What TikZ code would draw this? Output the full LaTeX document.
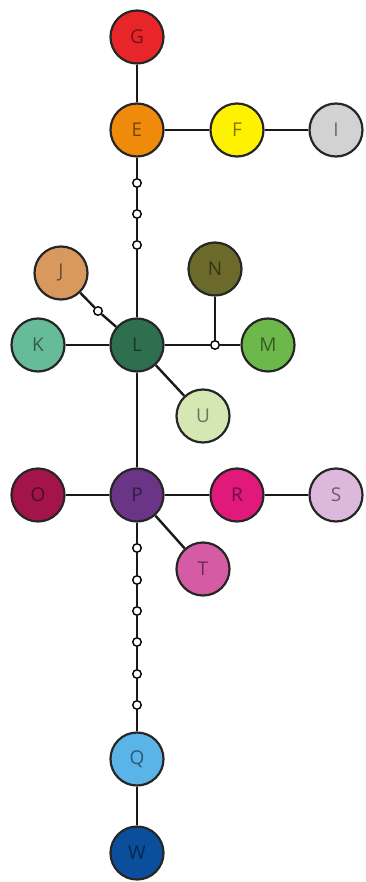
\documentclass[tikz,border=0pt]{standalone}
\usepackage{fontspec}
\setmainfont{Open Sans}
\usetikzlibrary{backgrounds}
\definecolor{cG}{HTML}{E8262A}
\definecolor{cE}{HTML}{F08A0B}
\definecolor{cF}{HTML}{FFF200}
\definecolor{cI}{HTML}{D2D2D2}
\definecolor{cJ}{HTML}{D9995E}
\definecolor{cN}{HTML}{6B6A2A}
\definecolor{cK}{HTML}{66BB99}
\definecolor{cL}{HTML}{2E6F50}
\definecolor{cM}{HTML}{6DB84B}
\definecolor{cU}{HTML}{D5E8B4}
\definecolor{cO}{HTML}{A3144A}
\definecolor{cP}{HTML}{6B3587}
\definecolor{cR}{HTML}{E0197B}
\definecolor{cS}{HTML}{DCB8DC}
\definecolor{cT}{HTML}{D65BA5}
\definecolor{cQ}{HTML}{5AB4E8}
\definecolor{cW}{HTML}{0B4F9C}
\tikzset{
  hap/.style={circle, draw=black!85, line width=2.2pt, minimum size=53pt, inner sep=0pt,
    font=\fontsize{19}{19}\selectfont, text=black, text opacity=0.5},
  dot/.style={circle, draw=black, fill=white, line width=1.4pt, minimum size=8.5pt, inner sep=0pt},
  link/.style={line width=2.4pt, draw=black!90}
}
\begin{document}
\begin{tikzpicture}[x=1pt,y=-1pt]
\useasboundingbox (0,0) rectangle (366,882);
\node[hap, fill=cG] (G) at (137,37) {G};
\node[hap, fill=cE] (E) at (137,130) {E};
\node[hap, fill=cF] (F) at (237,130) {F};
\node[hap, fill=cI] (I) at (336,130) {I};
\node[dot] (e1) at (137,183) {};
\node[dot] (e2) at (137,214) {};
\node[dot] (e3) at (137,245) {};
\node[hap, fill=cJ] (J) at (61,273) {J};
\node[dot] (j1) at (98,311) {};
\node[hap, fill=cN] (N) at (215,269) {N};
\node[hap, fill=cK] (K) at (38,345) {K};
\node[hap, fill=cL] (L) at (137,345) {L};
\node[dot] (m1) at (215,345) {};
\node[hap, fill=cM] (M) at (268,345) {M};
\node[hap, fill=cU] (U) at (203,416) {U};
\node[hap, fill=cO] (O) at (38,495) {O};
\node[hap, fill=cP] (P) at (137,495) {P};
\node[hap, fill=cR] (R) at (237,495) {R};
\node[hap, fill=cS] (S) at (336,495) {S};
\node[hap, fill=cT] (T) at (203,569) {T};
\node[dot] (p1) at (137,548) {};
\node[dot] (p2) at (137,580) {};
\node[dot] (p3) at (137,611) {};
\node[dot] (p4) at (137,642) {};
\node[dot] (p5) at (137,674) {};
\node[dot] (p6) at (137,705) {};
\node[hap, fill=cQ] (Q) at (137,759) {Q};
\node[hap, fill=cW] (W) at (137,853) {W};
\begin{scope}[on background layer]
\draw[link] (G) -- (E);
\draw[link] (E) -- (F);
\draw[link] (F) -- (I);
\draw[link] (E) -- (e1) -- (e2) -- (e3) -- (L);
\draw[link] (J) -- (j1) -- (L);
\draw[link] (K) -- (L);
\draw[link] (L) -- (m1) -- (M);
\draw[link] (N) -- (m1);
\draw[link] (L) -- (U);
\draw[link] (L) -- (P);
\draw[link] (O) -- (P);
\draw[link] (P) -- (R);
\draw[link] (R) -- (S);
\draw[link] (P) -- (T);
\draw[link] (P) -- (p1) -- (p2) -- (p3) -- (p4) -- (p5) -- (p6) -- (Q);
\draw[link] (Q) -- (W);
\end{scope}
\end{tikzpicture}
\end{document}
